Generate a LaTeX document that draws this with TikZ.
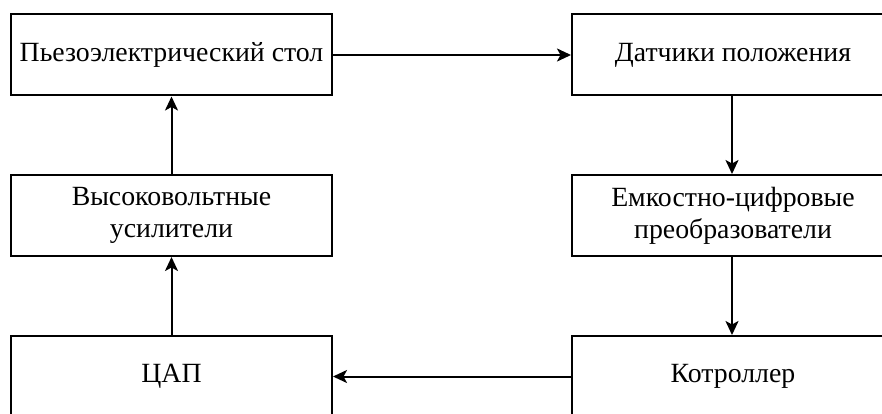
\documentclass[tikz,border=0pt]{standalone}
\usepackage{fontspec}
\setmainfont{Liberation Serif}
\usetikzlibrary{arrows.meta}
\begin{document}
\begin{tikzpicture}[x=1pt,y=-1pt,
  blk/.style={draw=black, line width=2pt, rectangle, minimum height=81pt, inner sep=0pt,
    align=center, font=\fontsize{27.8}{32}\selectfont},
  lblk/.style={blk, minimum width=321pt},
  rblk/.style={blk, minimum width=322pt},
  conn/.style={line width=2pt, -{Stealth[length=14pt,width=13pt,inset=3.5pt]}}]
\useasboundingbox (0,0) rectangle (882,414);
\fill[white] (0,0) rectangle (882,414);
\clip (0,0) rectangle (882,414);
\node[lblk] (pz) at (171.5,55) {Пьезоэлектрический стол};
\node[rblk] (dp) at (733,55) {Датчики положения};
\node[lblk] (hv) at (171.5,215.5) {Высоковольтные\\усилители};
\node[rblk] (ec) at (733,215.5) {Емкостно-цифровые\\преобразователи};
\node[lblk] (dac) at (171.5,376.5) {ЦАП};
\node[rblk] (ct) at (733,376.5) {Котроллер};
\draw[conn] (pz.east) -- (dp.west);
\draw[conn] (dp.south -| 732,0) -- (ec.north -| 732,0);
\draw[conn] (ec.south -| 732,0) -- (ct.north -| 732,0);
\draw[conn] (ct.west) -- (dac.east);
\draw[conn] (dac.north) -- (hv.south);
\draw[conn] (hv.north) -- (pz.south);
\end{tikzpicture}
\end{document}
